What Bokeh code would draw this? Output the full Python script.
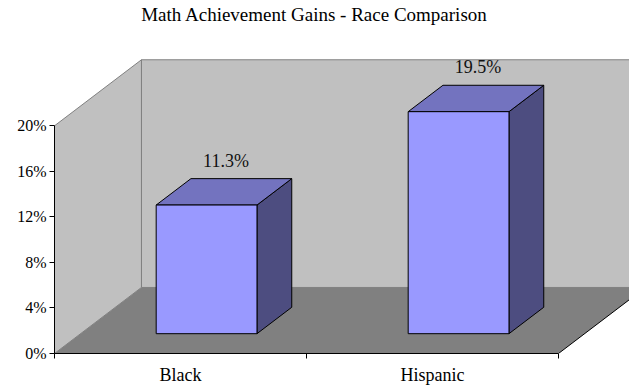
from bokeh.plotting import figure
from bokeh.models import (Range1d, FixedTicker, PrintfTickFormatter, Label,
                          ColumnDataSource)
from bokeh.core.properties import value
from bokeh.embed import file_html
from bokeh.resources import INLINE

# --- data ---------------------------------------------------------------
categories = ["Black", "Hispanic"]
gains = [11.3, 19.5]                      # percent
y_ticks = [0, 4, 8, 12, 16, 20]

# --- 3-D look: depth offset of the back plane, in data units ------------
DX = 0.345      # category units
DY = 5.80       # percent units
BAR_W = 0.4     # bar width as a fraction of a category
D0, D1 = 0.3, 0.7   # bar front / back as a fraction of the floor depth
Y_TOP = 20
N = len(categories)

FONT = "'Liberation Serif', 'Times New Roman', serif"

# the frame runs to the top of the canvas so the title can sit inside it
p = figure(width=629, height=387, output_backend="svg", toolbar_location=None,
           min_border_left=54, min_border_right=0, min_border_top=0,
           min_border_bottom=34)
p.x_range = Range1d(0, 575 / 252)
p.y_range = Range1d(0, 353 / 11.385)
p.xgrid.visible = False
p.ygrid.visible = False
p.outline_line_color = None
p.background_fill_color = "white"
p.border_fill_color = "white"

# chart title, centred on the whole canvas
title = Label(text="Math Achievement Gains - Race Comparison",
              x=260 / 252, y=339 / 11.385,
              text_align="center", text_baseline="middle",
              text_font=FONT, text_font_size="19px", text_color="black")
p.add_layout(title)

# --- walls and floor ----------------------------------------------------
back_x = [DX, DX, N + DX, N + DX]
back_y = [DY, Y_TOP + DY, Y_TOP + DY, DY]
p.patch(back_x, back_y, fill_color="#C0C0C0", line_color="#808080", line_width=1)

left_x = [0, 0, DX, DX]
left_y = [0, Y_TOP, Y_TOP + DY, DY]
p.patch(left_x, left_y, fill_color="#C0C0C0", line_color="#808080", line_width=1)

floor_x = [0, N, N + DX, DX]
floor_y = [0, 0, DY, DY]
p.patch(floor_x, floor_y, fill_color="#808080", line_color=None)
p.line([N, N + DX], [0, DY], line_color="black", line_width=1)

# --- bars as boxes ------------------------------------------------------
fx, fy, tx, ty, sx, sy = [], [], [], [], [], []
lx, ly, lt = [], [], []
for i, v in enumerate(gains):
    x0 = i + (1 - BAR_W) / 2 + D0 * DX
    x1 = x0 + BAR_W
    yb = D0 * DY
    yt = v + D0 * DY
    ddx = (D1 - D0) * DX
    ddy = (D1 - D0) * DY
    fx.append([x0, x1, x1, x0]); fy.append([yb, yb, yt, yt])
    tx.append([x0, x1, x1 + ddx, x0 + ddx]); ty.append([yt, yt, yt + ddy, yt + ddy])
    sx.append([x1, x1, x1 + ddx, x1 + ddx]); sy.append([yb, yt, yt + ddy, yb + ddy])
    lx.append(i + 0.5 + 0.5 * DX)
    ly.append(v + D1 * DY)
    lt.append(f"{v:.1f}%")

p.patches(sx, sy, fill_color="#4D4D80", line_color="black", line_width=1)
p.patches(tx, ty, fill_color="#7373BF", line_color="black", line_width=1)
p.patches(fx, fy, fill_color="#9999FF", line_color="black", line_width=1)

labels = ColumnDataSource(dict(x=lx, y=ly, text=lt))
p.text(x="x", y="y", text="text", source=labels, text_align="center",
       text_baseline="bottom", y_offset=-8, x_offset=2,
       text_font=value(FONT), text_font_size="18px", text_color="#111111")

# --- axes ---------------------------------------------------------------
ya = p.yaxis[0]
ya.ticker = FixedTicker(ticks=y_ticks, minor_ticks=[])
ya.formatter = PrintfTickFormatter(format="%d%%")
ya.bounds = (0, Y_TOP)
ya.major_tick_out = 5
ya.major_tick_in = 0
ya.major_label_standoff = 3
ya.axis_line_color = "black"
ya.major_tick_line_color = "black"
ya.major_label_text_font = FONT
ya.major_label_text_font_size = "16px"
ya.major_label_text_color = "black"

xa = p.xaxis[0]
xa.ticker = FixedTicker(ticks=[i + 0.5 for i in range(N)],
                        minor_ticks=list(range(N + 1)))
xa.major_label_overrides = {i + 0.5: c for i, c in enumerate(categories)}
xa.bounds = (0, N)
xa.major_tick_out = 0
xa.major_tick_in = 0
xa.minor_tick_out = 5
xa.minor_tick_in = 0
xa.minor_tick_line_color = "black"
xa.major_label_standoff = 6
xa.axis_line_color = "black"
xa.major_label_text_font = FONT
xa.major_label_text_font_size = "18px"
xa.major_label_text_color = "black"

open("out.html", "w").write(file_html(p, INLINE))
